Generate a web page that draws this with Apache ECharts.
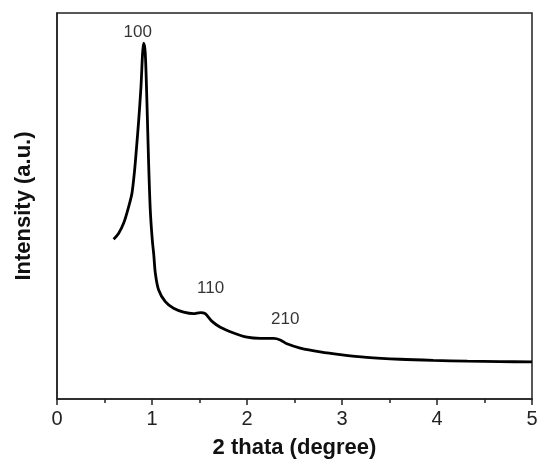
<!DOCTYPE html>
<html>
<head>
<meta charset="utf-8">
<script src="https://cdn.jsdelivr.net/npm/echarts@6/dist/echarts.min.js"></script>
<style>html,body{margin:0;padding:0;background:#fff;}#c{width:542px;height:464px;}</style>
</head>
<body>
<div id="c"></div>
<script>
// 2 theta (degree)
const twoTheta = [0.596, 0.648, 0.701, 0.754, 0.789, 0.817, 0.835, 0.86, 0.884, 0.901, 0.912,
  0.929, 0.947, 0.964, 0.982, 1.003, 1.019, 1.035, 1.069, 1.14, 1.227, 1.333, 1.438, 1.508, 1.561,
  1.632, 1.719, 1.859, 2.0, 2.14, 2.28, 2.35, 2.42, 2.56, 2.77, 2.98, 3.26, 3.61, 3.96, 4.32, 4.66, 5.0];
// Intensity (a.u.)
const intensity = [41.4, 42.9, 45.5, 49.8, 53.3, 59.3, 64.5, 72.2, 80.9, 89.6, 92.2,
  89.6, 76.6, 61.5, 48.9, 41.2, 37.3, 32.6, 28.3, 25.2, 23.5, 22.5, 22.1, 22.4, 22.1,
  20.1, 18.6, 17.1, 16.0, 15.7, 15.7, 15.3, 14.3, 13.2, 12.2, 11.5, 10.8, 10.3, 10.0, 9.8, 9.7, 9.6];
// Peak annotations
const peakLabels = ['100', '110', '210'];
const peakX = [0.85, 1.617, 2.403];
const peakY = [94.9, 28.8, 20.7];
const xTicks = [0, 1, 2, 3, 4, 5];

const font = 'Liberation Sans, Arial, sans-serif';
const chart = echarts.init(document.getElementById('c'));
chart.setOption({
  animation: false,
  backgroundColor: '#fff',
  grid: {left: 57, right: 10, top: 13, bottom: 65, show: true, borderColor: '#222', borderWidth: 1.5},
  xAxis: {
    type: 'value', min: xTicks[0], max: xTicks[xTicks.length - 1], interval: 1,
    name: '2 thata (degree)', nameLocation: 'middle', nameGap: 38,
    nameTextStyle: {fontFamily: font, fontSize: 22, fontWeight: 'bold', color: '#111'},
    axisLine: {show: true, lineStyle: {color: '#222', width: 1.5}},
    axisTick: {show: true, inside: false, length: 6, lineStyle: {color: '#222', width: 1.5}},
    minorTick: {show: true, splitNumber: 2, length: 4, lineStyle: {color: '#222', width: 1.5}},
    axisLabel: {fontFamily: font, fontSize: 20, color: '#222', margin: 10},
    splitLine: {show: false}
  },
  yAxis: {
    type: 'value', min: 0, max: 100,
    name: 'Intensity (a.u.)', nameLocation: 'middle', nameGap: 22,
    nameTextStyle: {fontFamily: font, fontSize: 22, fontWeight: 'bold', color: '#111'},
    axisLine: {show: true, lineStyle: {color: '#222', width: 1.5}},
    axisTick: {show: false}, axisLabel: {show: false}, splitLine: {show: false}
  },
  series: [{
    type: 'line',
    data: twoTheta.map((x, i) => [x, intensity[i]]),
    showSymbol: false, smooth: 0.3,
    lineStyle: {color: '#000', width: 2.8}
  }, {
    type: 'scatter',
    data: peakLabels.map((t, i) => ({value: [peakX[i], peakY[i]], name: t})),
    symbolSize: 0,
    label: {show: true, position: 'inside', formatter: p => p.name,
      fontFamily: font, fontSize: 17, color: '#000'}
  }]
});
</script>
</body>
</html>
